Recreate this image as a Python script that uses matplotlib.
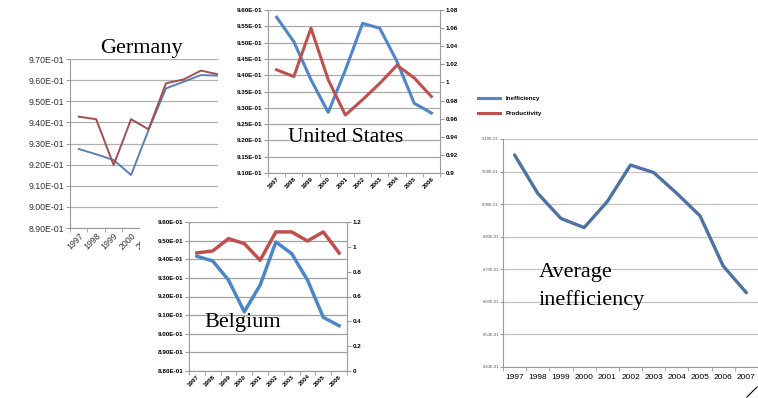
import matplotlib
matplotlib.use('Agg')
import matplotlib.pyplot as plt
import numpy as np
from matplotlib.patches import Rectangle
from matplotlib.lines import Line2D
from matplotlib.ticker import FuncFormatter

W, H = 758, 398

# data
years_de = ['1997', '1998', '1999', '2000', '2001', '2002', '2003', '2004', '2005', '2006', '2007']
de_ineff = [0.9274, 0.9249, 0.9222, 0.9151, 0.9364, 0.9561, 0.9592, 0.9624, 0.9621]
de_prod = [0.9427, 0.9415, 0.9198, 0.9415, 0.9367, 0.9585, 0.9603, 0.9645, 0.9627]

years_us = ['1997', '1998', '1999', '2000', '2001', '2002', '2003', '2004', '2005', '2006']
us_ineff = [0.9578, 0.9503, 0.9386, 0.9286, 0.9416, 0.9559, 0.9544, 0.9442, 0.9314, 0.9284]
us_prod = [1.014, 1.0065, 1.060, 1.003, 0.964, 0.981, 0.999, 1.019, 1.005, 0.9845]

years_be = ['1997', '1998', '1999', '2000', '2001', '2002', '2003', '2004', '2005', '2006']
be_ineff = [0.9416, 0.9391, 0.9288, 0.9118, 0.9261, 0.9493, 0.9430, 0.9288, 0.9088, 0.9043]
be_prod = [0.951, 0.967, 1.066, 1.026, 0.892, 1.120, 1.120, 1.047, 1.120, 0.951]

years_avg = ['1997', '1998', '1999', '2000', '2001', '2002', '2003', '2004', '2005', '2006', '2007']
avg_ineff = [0.9051, 0.8933, 0.8856, 0.8828, 0.8908, 0.9020, 0.8997, 0.8933, 0.8864, 0.8710, 0.8628]

sci = FuncFormatter(lambda v, p: f"{v:.2E}")
plain = FuncFormatter(lambda v, p: f"{round(v, 3):g}")


def px(x0, y0, x1, y1):
    return [x0 / W, 1 - y1 / H, (x1 - x0) / W, (y1 - y0) / H]


def white_box(fig, x0, y0, x1, y1, z):
    r = Rectangle((x0 / W, 1 - y1 / H), (x1 - x0) / W, (y1 - y0) / H,
                  transform=fig.transFigure, facecolor='white', edgecolor='none', zorder=z)
    fig.patches.append(r)


def excel_axes(ax, n, grid_color='#b0b0b0'):
    for s in ['top', 'right']:
        ax.spines[s].set_visible(False)
    for s in ['left', 'bottom']:
        ax.spines[s].set_color('#9a9a9a')
        ax.spines[s].set_linewidth(0.8)
    ax.set_xlim(-0.5, n - 0.5)
    ax.set_xticks(np.arange(n))
    ax.set_xticks(np.arange(n + 1) - 0.5, minor=True)
    ax.tick_params(axis='x', which='major', length=0, pad=2)
    ax.tick_params(axis='x', which='minor', length=3, color='#9a9a9a')
    ax.tick_params(axis='y', length=3, color='#9a9a9a', pad=1)
    ax.grid(axis='y', color=grid_color, linewidth=0.9)
    ax.set_axisbelow(True)


plt.rcParams['font.family'] = ['Liberation Sans', 'DejaVu Sans']
fig = plt.figure(figsize=(W / 100, H / 100), dpi=100)

# Germany (bottom layer)
ax_de = fig.add_axes(px(70, 59, 262, 228))
ax_de.set_zorder(0)
excel_axes(ax_de, len(years_de))
ax_de.plot(range(len(de_ineff)), de_ineff, color='#5a7fb6', lw=1.4)
ax_de.plot(range(len(de_prod)), de_prod, color='#a24f4f', lw=1.4)
ax_de.set_ylim(0.89, 0.97)
ax_de.set_yticks(np.arange(0.89, 0.9701, 0.01))
ax_de.yaxis.set_major_formatter(sci)
ax_de.set_xticklabels(years_de, rotation=45, ha='right', rotation_mode='anchor')
ax_de.tick_params(labelsize=6.3, labelcolor='#333333')
fig.text(141 / W, 1 - 49 / H, 'Germany', family='Liberation Serif', fontsize=16,
         ha='center', va='center', zorder=0.5)

# United States
white_box(fig, 218, 0, 470, 210, 1)
ax_us = fig.add_axes(px(268, 10, 440, 173))
ax_us.set_zorder(2)
excel_axes(ax_us, len(years_us), grid_color='#a8a8a8')
ax_us2 = ax_us.twinx()
ax_us2.set_zorder(2.1)
l1, = ax_us.plot(range(len(years_us)), us_ineff, color='#4f86c9', lw=2.2)
l2, = ax_us2.plot(range(len(years_us)), us_prod, color='#c0504d', lw=2.2)
ax_us.set_ylim(0.91, 0.96)
ax_us.set_yticks(np.arange(0.91, 0.9601, 0.005))
ax_us.yaxis.set_major_formatter(sci)
ax_us2.set_ylim(0.9, 1.08)
ax_us2.set_yticks(np.arange(0.9, 1.0801, 0.02))
ax_us2.yaxis.set_major_formatter(plain)
for s in ['top', 'left', 'bottom']:
    ax_us2.spines[s].set_visible(False)
ax_us2.spines['right'].set_color('#9a9a9a')
ax_us2.tick_params(axis='y', length=3, color='#9a9a9a', pad=1)
ax_us.set_xticklabels(years_us, rotation=45, ha='right', rotation_mode='anchor')
for a in (ax_us, ax_us2):
    a.tick_params(labelsize=4.5)
    for t in a.get_xticklabels() + a.get_yticklabels():
        t.set_fontweight('bold')
leg = fig.legend([l1, l2], ['Inefficiency', 'Productivity'], loc='upper left',
                 bbox_to_anchor=(472 / W, 1 - 90 / H), frameon=False, fontsize=4.5,
                 handlelength=3.6, labelspacing=1.6, prop={'weight': 'bold', 'size': 4.5})
leg.set_zorder(2.2)
fig.text(346 / W, 1 - 137 / H, 'United States', family='Liberation Serif', fontsize=15.5,
         ha='center', va='center', zorder=2.5)

# Belgium
white_box(fig, 140, 212, 366, 398, 3)
ax_be = fig.add_axes(px(189, 222, 347, 371))
ax_be.set_zorder(4)
excel_axes(ax_be, len(years_be), grid_color='#a0a0a0')
ax_be2 = ax_be.twinx()
ax_be2.set_zorder(4.1)
ax_be.plot(range(len(years_be)), be_ineff, color='#4a86c8', lw=2.5)
ax_be2.plot(range(len(years_be)), be_prod, color='#c0504d', lw=2.5)
ax_be.set_ylim(0.88, 0.96)
ax_be.set_yticks(np.arange(0.88, 0.9601, 0.01))
ax_be.yaxis.set_major_formatter(sci)
ax_be2.set_ylim(0, 1.2)
ax_be2.set_yticks(np.arange(0, 1.201, 0.2))
ax_be2.yaxis.set_major_formatter(plain)
for s in ['top', 'left', 'bottom']:
    ax_be2.spines[s].set_visible(False)
ax_be2.spines['right'].set_color('#9a9a9a')
ax_be2.tick_params(axis='y', length=3, color='#9a9a9a', pad=1)
ax_be.set_xticklabels(years_be, rotation=45, ha='right', rotation_mode='anchor')
for a in (ax_be, ax_be2):
    a.tick_params(labelsize=4.5)
    for t in a.get_xticklabels() + a.get_yticklabels():
        t.set_fontweight('bold')
fig.text(243 / W, 1 - 323 / H, 'Belgium', family='Liberation Serif', fontsize=16,
         ha='center', va='center', zorder=4.5)

# Average inefficiency
white_box(fig, 478, 128, 758, 398, 5)
ax_avg = fig.add_axes(px(503, 139, 758, 367))
ax_avg.set_zorder(6)
excel_axes(ax_avg, len(years_avg), grid_color='#c4c4c4')
ax_avg.plot(range(len(years_avg)), avg_ineff, color='#4e72a3', lw=2.4, solid_capstyle='round')
ax_avg.set_ylim(0.84, 0.91)
ax_avg.set_yticks(np.arange(0.84, 0.9101, 0.01))
ax_avg.yaxis.set_major_formatter(sci)
ax_avg.set_xticklabels(years_avg)
ax_avg.tick_params(axis='y', labelsize=3, labelcolor='#555555', length=2)
ax_avg.tick_params(axis='x', labelsize=6, pad=5)
fig.text(539 / W, 1 - 272 / H, 'Average', family='Liberation Serif', fontsize=16,
         ha='left', va='center', zorder=6.5)
fig.text(539 / W, 1 - 300 / H, 'inefficiency', family='Liberation Serif', fontsize=16,
         ha='left', va='center', zorder=6.5)
fig.lines.append(Line2D([747 / W, 757 / W], [1 - 397 / H, 1 - 387 / H],
                        transform=fig.transFigure, color='black', lw=0.8, zorder=7))

fig.savefig('out.png', dpi=100)
